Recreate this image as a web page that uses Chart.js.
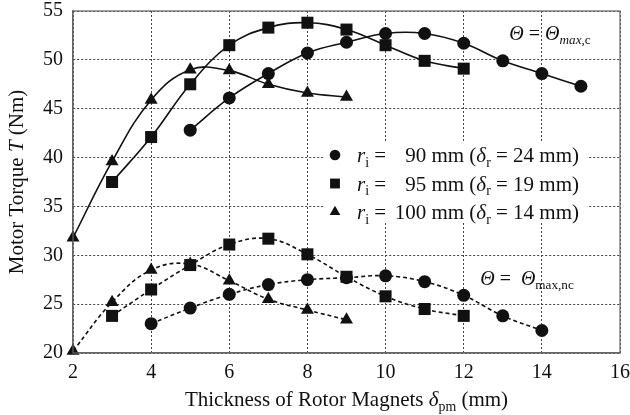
<!DOCTYPE html>
<html>
<head>
<meta charset="utf-8">
<script src="https://cdn.jsdelivr.net/npm/chart.js@4.4.0/dist/chart.umd.min.js"></script>
<style>
  html, body { margin: 0; padding: 0; background: #fff; }
  #wrap { width: 630px; height: 415px; }
</style>
</head>
<body>
<div id="wrap"><canvas id="torqueChart" width="630" height="415"></canvas></div>
<script>
// Magnet thickness (mm) for each rotor inner radius
const thick90 = [5, 6, 7, 8, 9, 10, 11, 12, 13, 14, 15];
const thick95 = [3, 4, 5, 6, 7, 8, 9, 10, 11, 12];
const thick100 = [2, 3, 4, 5, 6, 7, 8, 9];
const thick90nc = [4, 5, 6, 7, 8, 9, 10, 11, 12, 13, 14];

// Torque (Nm) at Theta = Theta_max,c
const torqueC90 = [42.8, 46.1, 48.6, 50.7, 51.8, 52.7, 52.7, 51.7, 49.9, 48.6, 47.3];
const torqueC95 = [37.5, 42.1, 47.5, 51.5, 53.3, 53.8, 53.1, 51.5, 49.9, 49.1];
const torqueC100 = [31.8, 39.6, 45.9, 49.0, 48.9, 47.5, 46.6, 46.2];

// Torque (Nm) at Theta = Theta_max,nc
const torqueNc90 = [23.0, 24.6, 26.0, 27.0, 27.5, 27.7, 27.9, 27.3, 25.9, 23.8, 22.3];
const torqueNc95 = [23.8, 26.5, 29.0, 31.1, 31.7, 30.1, 27.8, 25.8, 24.5, 23.8];
const torqueNc100 = [20.2, 25.2, 28.5, 29.1, 27.4, 25.5, 24.4, 23.4];

const xTicks = [2, 4, 6, 8, 10, 12, 14, 16];
const yTicks = [20, 25, 30, 35, 40, 45, 50, 55];

const SERIF = '"Liberation Serif", "Times New Roman", serif';
const INK = '#111';

function pts(xs, ys) {
    return xs.map((x, i) => ({ x: x, y: ys[i] }));
}

const markers = {
    circle: { pointStyle: 'circle', radius: 6.5 },
    rect: { pointStyle: 'rect', radius: 8.5 },
    triangle: { pointStyle: 'triangle', radius: 7.5 }
};

function series(label, xs, ys, marker, dashed) {
    return {
        label: label,
        data: pts(xs, ys),
        borderColor: INK,
        backgroundColor: INK,
        borderWidth: 1.6,
        borderDash: dashed ? [4, 3] : [],
        pointStyle: markers[marker].pointStyle,
        pointRadius: markers[marker].radius,
        pointBackgroundColor: INK,
        pointBorderColor: INK,
        pointBorderWidth: 0,
        tension: 0.4,
        clip: false
    };
}

// Draw text made of plain / italic / subscript pieces
function richWidth(ctx, parts, size) {
    let w = 0;
    parts.forEach(p => {
        const s = p[2] ? size * 0.66 : size;
        ctx.font = (p[1] ? 'italic ' : '') + s + 'px ' + SERIF;
        w += ctx.measureText(p[0]).width;
    });
    return w;
}

function drawRich(ctx, parts, x, y, size, align) {
    let cx = x;
    if (align === 'center') cx = x - richWidth(ctx, parts, size) / 2;
    if (align === 'right') cx = x - richWidth(ctx, parts, size);
    ctx.textBaseline = 'alphabetic';
    ctx.textAlign = 'left';
    ctx.fillStyle = INK;
    parts.forEach(p => {
        const s = p[2] ? size * 0.66 : size;
        ctx.font = (p[1] ? 'italic ' : '') + s + 'px ' + SERIF;
        ctx.fillText(p[0], cx, p[2] ? y + size * 0.22 : y);
        cx += ctx.measureText(p[0]).width;
    });
}

const legendRows = [
    { style: 'circle', num: '90', rest: ' = 24 mm)' },
    { style: 'rect', num: '95', rest: ' = 19 mm)' },
    { style: 'triangle', num: '100', rest: ' = 14 mm)' }
];

const decorations = {
    id: 'decorations',
    afterDraw(chart) {
        const ctx = chart.ctx;
        const a = chart.chartArea;
        ctx.save();

        // frame around the plot
        ctx.strokeStyle = '#666';
        ctx.lineWidth = 1.2;
        ctx.setLineDash([]);
        ctx.strokeRect(a.left, a.top, a.right - a.left, a.bottom - a.top);

        // legend box
        ctx.fillStyle = '#fff';
        ctx.fillRect(325, 141, 262, 82);
        legendRows.forEach((row, i) => {
            const y = 155 + i * 28.5;
            const m = markers[row.style];
            ctx.fillStyle = INK;
            ctx.strokeStyle = INK;
            Chart.helpers.drawPoint(ctx, {
                pointStyle: m.pointStyle,
                radius: m.radius * 0.82,
                borderWidth: 0,
                rotation: 0
            }, 335, y);
            const base = y + 7;
            drawRich(ctx, [['r', true], ['i', false, true], [' =', false]], 357, base, 21);
            drawRich(ctx, [[row.num, false], [' mm (', false], ['δ', true], ['r', false, true], [row.rest, false]], 579, base, 21, 'right');
        });

        // operating-angle notes
        drawRich(ctx, [['Θ', true], [' = ', false], ['Θ', true], ['max', true, true], [',c', false, true]], 550, 40, 20, 'center');
        drawRich(ctx, [['Θ', true], [' =  ', false], ['Θ', true], ['max,nc', false, true]], 527, 285, 20, 'center');

        // axis titles
        drawRich(ctx, [['Thickness of Rotor Magnets ', false], ['δ', true], ['pm', false, true], [' (mm)', false]],
            (a.left + a.right) / 2, 406, 21, 'center');
        ctx.translate(23, (a.top + a.bottom) / 2);
        ctx.rotate(-Math.PI / 2);
        drawRich(ctx, [['Motor Torque ', false], ['T', true], [' (Nm)', false]], 0, 0, 21, 'center');
        ctx.restore();
    }
};

const gridStyle = {
    color: '#444',
    lineWidth: 1,
    drawTicks: false
};

new Chart(document.getElementById('torqueChart').getContext('2d'), {
    type: 'line',
    data: {
        datasets: [
            series('90 mm c', thick90, torqueC90, 'circle', false),
            series('95 mm c', thick95, torqueC95, 'rect', false),
            series('100 mm c', thick100, torqueC100, 'triangle', false),
            series('90 mm nc', thick90nc, torqueNc90, 'circle', true),
            series('95 mm nc', thick95, torqueNc95, 'rect', true),
            series('100 mm nc', thick100, torqueNc100, 'triangle', true)
        ]
    },
    options: {
        responsive: false,
        animation: false,
        layout: { padding: { top: 11, right: 10, left: 0, bottom: 0 } },
        plugins: { legend: { display: false }, tooltip: { enabled: false } },
        scales: {
            x: {
                type: 'linear',
                min: xTicks[0],
                max: xTicks[xTicks.length - 1],
                afterBuildTicks: s => { s.ticks = xTicks.map(v => ({ value: v })); },
                afterFit: s => { s.height = 62; s.paddingLeft = 0; s.paddingRight = 0; },
                grid: gridStyle,
                border: { color: '#666', width: 1.2, dash: [2, 2] },
                ticks: { color: INK, padding: 8, font: { family: SERIF, size: 20 } }
            },
            y: {
                type: 'linear',
                min: yTicks[0],
                max: yTicks[yTicks.length - 1],
                afterBuildTicks: s => { s.ticks = yTicks.map(v => ({ value: v })); },
                afterFit: s => { s.width = 73; s.paddingTop = 0; s.paddingBottom = 0; },
                grid: gridStyle,
                border: { color: '#666', width: 1.2, dash: [2, 2] },
                ticks: { color: INK, padding: 10, font: { family: SERIF, size: 20 } }
            }
        }
    },
    plugins: [decorations]
});
</script>
</body>
</html>
